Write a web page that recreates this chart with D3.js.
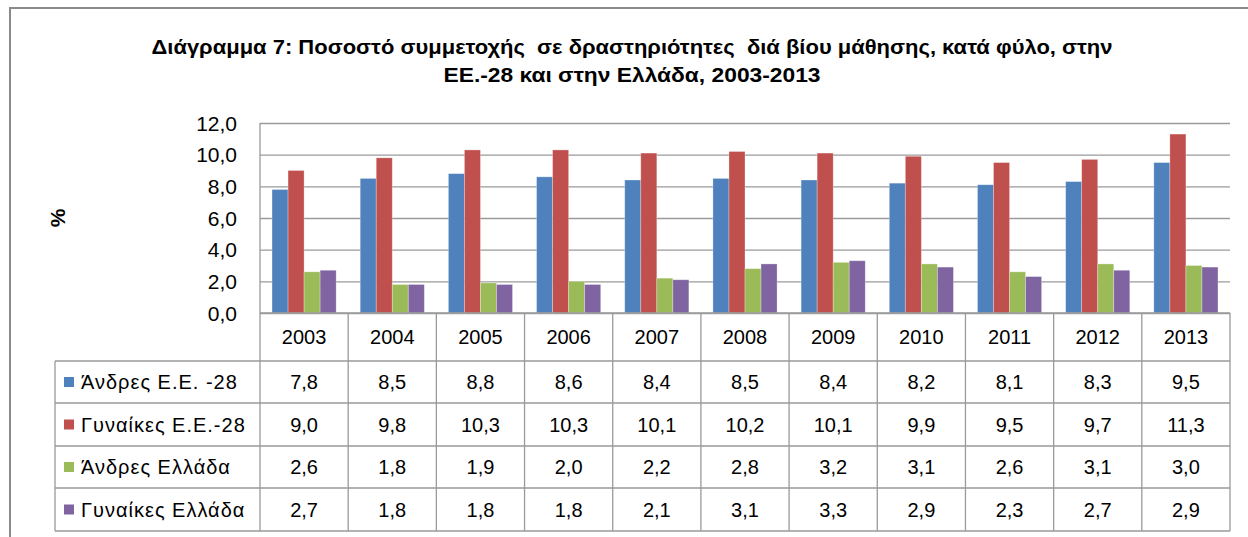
<!DOCTYPE html>
<html>
<head>
<meta charset="utf-8">
<script src="https://cdn.jsdelivr.net/npm/d3@7"></script>
<style>
  body { margin: 0; background: #fff; }
  text { font-family: "Liberation Sans", Arial, sans-serif; }
</style>
</head>
<body>
<div id="chart"></div>
<script>
// data
var years = ["2003","2004","2005","2006","2007","2008","2009","2010","2011","2012","2013"];
var seriesNames = ["Άνδρες Ε.Ε. -28","Γυναίκες Ε.Ε.-28","Άνδρες Ελλάδα","Γυναίκες Ελλάδα"];
var menEU = [7.8, 8.5, 8.8, 8.6, 8.4, 8.5, 8.4, 8.2, 8.1, 8.3, 9.5];
var womenEU = [9.0, 9.8, 10.3, 10.3, 10.1, 10.2, 10.1, 9.9, 9.5, 9.7, 11.3];
var menGR = [2.6, 1.8, 1.9, 2.0, 2.2, 2.8, 3.2, 3.1, 2.6, 3.1, 3.0];
var womenGR = [2.7, 1.8, 1.8, 1.8, 2.1, 3.1, 3.3, 2.9, 2.3, 2.7, 2.9];
var yTicks = [0, 2, 4, 6, 8, 10, 12];
var titleLines = ["Διάγραμμα 7: Ποσοστό συμμετοχής  σε δραστηριότητες  διά βίου μάθησης, κατά φύλο, στην",
                  "ΕΕ.-28 και στην Ελλάδα, 2003-2013"];

var seriesValues = [menEU, womenEU, menGR, womenGR];
var colors = ["#4F81BD","#C0504D","#9BBB59","#8064A2"];

//dimensions
var W = 1248, H = 537;
var plotLeft = 260, plotRight = 1230, plotTop = 123, plotBottom = 313;
var tableLeft = 55;
var rowEdges = [313, 361, 403, 446, 488, 531];
var gridColor = "#9a9a9a";

var svg = d3.select("#chart")
  .append("svg")
  .attr("width", W)
  .attr("height", H);

//outer frame
svg.append("rect")
  .attr("x", 10).attr("y", 8)
  .attr("width", W + 20).attr("height", H + 20)
  .attr("fill", "#fff")
  .attr("stroke", "#8a8a8a")
  .attr("stroke-width", 2);

//title (narrow bold look via textLength)
svg.selectAll(".title")
  .data(titleLines)
  .enter().append("text")
  .attr("class", "title")
  .attr("x", 632)
  .attr("y", function(d, i) { return 54 + i * 28; })
  .attr("text-anchor", "middle")
  .attr("textLength", function(d, i) { return i == 0 ? 961 : 377; })
  .attr("lengthAdjust", "spacingAndGlyphs")
  .style("white-space", "pre")
  .style("font-family", "'Liberation Sans Narrow', 'Liberation Sans', Arial, sans-serif")
  .style("font-weight", "bold")
  .style("font-size", "21px")
  .text(function(d) { return d; });

//scales
var x0 = d3.scaleBand().domain(years).range([plotLeft, plotRight]).padding(0);
var x1 = d3.scaleBand().domain(d3.range(seriesNames.length))
  .range([0, x0.bandwidth()]).paddingInner(0).paddingOuter(0.75);
var y = d3.scaleLinear().domain([0, 12]).range([plotBottom, plotTop]);

//gridlines
svg.append("g")
  .attr("transform", "translate(" + plotLeft + ",0)")
  .call(d3.axisLeft(y).tickValues(yTicks).tickSize(-(plotRight - plotLeft)).tickFormat(""))
  .call(function(g) { g.select(".domain").remove(); })
  .selectAll(".tick line")
  .attr("stroke", gridColor)
  .attr("stroke-width", 1.3);

//y tick labels
svg.append("g")
  .selectAll("text")
  .data(yTicks)
  .enter().append("text")
  .attr("x", 237)
  .attr("y", function(d) { return y(d); })
  .attr("dy", "0.36em")
  .attr("text-anchor", "end")
  .style("font-size", "21px")
  .style("fill", "#000")
  .text(function(d) { return d3.format(".1f")(d).replace(".", ","); });

//y axis title
svg.append("text")
  .attr("transform", "translate(65,218) rotate(-90)")
  .attr("text-anchor", "middle")
  .style("font-size", "21px")
  .style("font-weight", "bold")
  .text("%");

//bars
var groups = svg.selectAll(".year")
  .data(years)
  .enter().append("g")
  .attr("class", "year")
  .attr("transform", function(d) { return "translate(" + x0(d) + ",0)"; });

groups.selectAll("rect")
  .data(function(d, i) { return seriesValues.map(function(s, k) { return {k: k, v: s[i]}; }); })
  .enter().append("rect")
  .attr("x", function(d) { return x1(d.k); })
  .attr("y", function(d) { return y(d.v); })
  .attr("width", x1.bandwidth())
  .attr("height", function(d) { return y(0) - y(d.v); })
  .attr("fill", function(d) { return colors[d.k]; })
  .attr("stroke", "rgba(255,255,255,0.35)")
  .attr("stroke-width", 0.8);

//data table lines
var table = svg.append("g").attr("stroke", gridColor).attr("stroke-width", 1.3);

table.selectAll(".hline")
  .data(rowEdges)
  .enter().append("line")
  .attr("x1", function(d, i) { return i == 0 ? plotLeft : tableLeft; })
  .attr("x2", plotRight)
  .attr("y1", function(d) { return d; })
  .attr("y2", function(d) { return d; });

//column dividers (including plot left edge)
table.selectAll(".vline")
  .data(years.concat(["end"]))
  .enter().append("line")
  .attr("x1", function(d) { return d == "end" ? plotRight : x0(d); })
  .attr("x2", function(d) { return d == "end" ? plotRight : x0(d); })
  .attr("y1", function(d, i) { return i == 0 ? plotTop : rowEdges[0]; })
  .attr("y2", rowEdges[rowEdges.length - 1]);

table.append("line")
  .attr("x1", tableLeft).attr("x2", tableLeft)
  .attr("y1", rowEdges[1]).attr("y2", rowEdges[rowEdges.length - 1]);

//year labels
svg.selectAll(".yearLabel")
  .data(years)
  .enter().append("text")
  .attr("x", function(d) { return x0(d) + x0.bandwidth() / 2; })
  .attr("y", (rowEdges[0] + rowEdges[1]) / 2)
  .attr("dy", "0.36em")
  .attr("text-anchor", "middle")
  .style("font-size", "20px")
  .text(function(d) { return d; });

//rows: legend key + values
seriesNames.forEach(function(name, k) {
  var cy = (rowEdges[k + 1] + rowEdges[k + 2]) / 2;
  svg.append("rect")
    .attr("x", 64).attr("y", cy - 5)
    .attr("width", 10).attr("height", 10)
    .attr("fill", colors[k]);
  svg.append("text")
    .attr("x", 81).attr("y", cy)
    .attr("dy", "0.36em")
    .style("font-size", "20px")
    .style("letter-spacing", "1px")
    .text(name);
  svg.selectAll(".val" + k)
    .data(seriesValues[k])
    .enter().append("text")
    .attr("x", function(d, i) { return x0(years[i]) + x0.bandwidth() / 2; })
    .attr("y", cy)
    .attr("dy", "0.36em")
    .attr("text-anchor", "middle")
    .style("font-size", "20px")
    .text(function(d) { return d3.format(".1f")(d).replace(".", ","); });
});
</script>
</body>
</html>
